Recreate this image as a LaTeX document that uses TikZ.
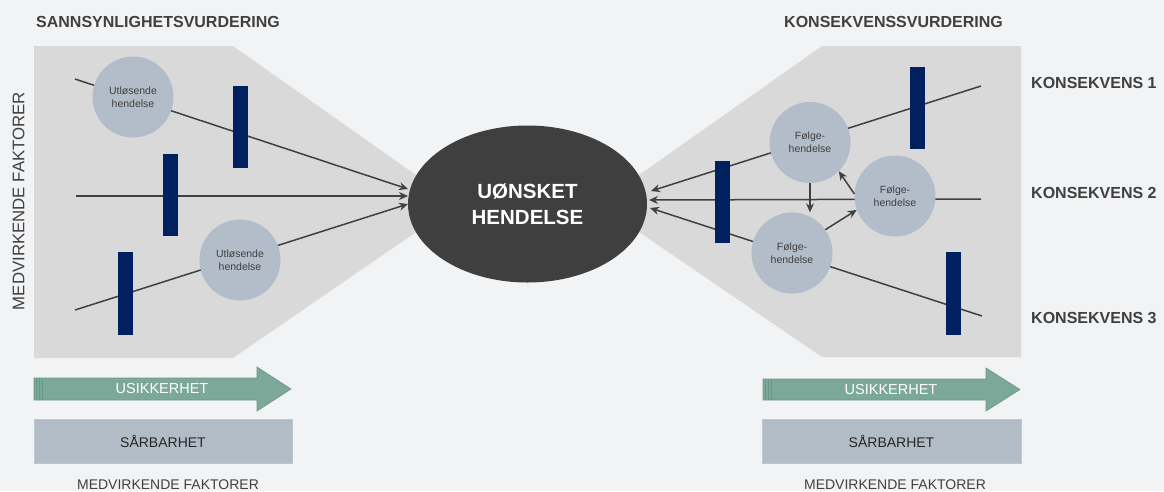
\documentclass[tikz,border=0pt]{standalone}
\usepackage{fontspec}
\setmainfont{Liberation Sans}
\usetikzlibrary{arrows.meta,shapes.geometric}
\definecolor{bgc}{HTML}{F2F3F5}
\definecolor{funnelc}{HTML}{D9D9D9}
\definecolor{circc}{HTML}{B3BDC9}
\definecolor{navy}{HTML}{002060}
\definecolor{dark}{HTML}{3F3F3F}
\definecolor{txt}{HTML}{404040}
\definecolor{grn}{HTML}{7BA898}
\definecolor{grnd}{HTML}{6A9888}
\definecolor{boxc}{HTML}{B2BCC7}
\tikzset{
  conn/.style={draw=txt,line width=1.5pt,-{Stealth[length=9pt,width=8pt]}},
  evcirc/.style={circle,fill=circc,minimum size=81pt,inner sep=0pt,align=center,
    text=txt,font=\fontsize{10.5}{13}\selectfont},
  bar/.style={rectangle,fill=navy,minimum width=15pt,inner sep=0pt},
  title/.style={anchor=west,text=txt,font=\fontsize{16}{19}\selectfont\bfseries,inner sep=0pt},
  conslabel/.style={anchor=west,text=txt,font=\fontsize{16}{19}\selectfont\bfseries,inner sep=0pt},
  factor/.style={text=txt,font=\fontsize{14}{17}\selectfont,inner sep=0pt},
  usik/.style={fill=grn,draw=grnd,line width=0.6pt},
  usiktext/.style={text=white,font=\fontsize{14.5}{17}\selectfont,inner sep=0pt},
  sarbox/.style={rectangle,fill=boxc,draw=boxc!85!white,inner sep=0pt,
    text=black!85,font=\fontsize{14}{17}\selectfont},
}
\begin{document}
\begin{tikzpicture}[x=1pt,y=-1pt]
\useasboundingbox (0,0) rectangle (1164,491);
\fill[bgc] (0,0) rectangle (1164,491);

% grey funnels
\fill[funnelc] (34,46) -- (233,46) -- (457,204) -- (233,358) -- (34,358) -- cycle;
\fill[funnelc] (1021,46) -- (822,46) -- (598,204) -- (822,357) -- (1021,357) -- cycle;

% titles
\node[title] (tl) at (36,22) {SANNSYNLIGHETSVURDERING};
\node[title] (tr) at (784,22) {KONSEKVENSSVURDERING};
\node[text=txt,font=\fontsize{16.8}{19}\selectfont,rotate=90,inner sep=0pt] (mvl) at (18.5,201) {MEDVIRKENDE FAKTORER};

\node[conslabel] (k1) at (1031,83) {KONSEKVENS 1};
\node[conslabel] (k2) at (1031,193) {KONSEKVENS 2};
\node[conslabel] (k3) at (1031,318) {KONSEKVENS 3};

% central event
\node[ellipse,fill=dark,minimum width=239pt,minimum height=157pt,inner sep=0pt,
  text=white,align=center,font=\fontsize{20.5}{26}\selectfont\bfseries] (E) at (527.5,204) {UØNSKET\\HENDELSE};

% line coordinates
\coordinate (sL1) at (75,79);
\coordinate (sL2) at (76,196);
\coordinate (sL3) at (75,310);
\coordinate (eL1) at (408,189);
\coordinate (eL2) at (408,196);
\coordinate (eL3) at (408,204);
\coordinate (sR1) at (981,86);
\coordinate (sR2) at (981,199);
\coordinate (sR3) at (982,316);
\coordinate (eR1) at (651,191);
\coordinate (eR2) at (649,200);
\coordinate (eR3) at (650,208);

\draw[conn] (sL1) -- (eL1);
\draw[conn] (sL2) -- (eL2);
\draw[conn] (sL3) -- (eL3);
\draw[conn] (sR1) -- (eR1);
\draw[conn] (sR2) -- (eR2);
\draw[conn] (sR3) -- (eR3);

% events
\node[evcirc] (U1) at (133,97) {Utløsende\\hendelse};
\node[evcirc] (U2) at (240,260) {Utløsende\\hendelse};
\node[evcirc] (F1) at (810,142.5) {Følge-\\hendelse};
\node[evcirc] (F2) at (895,196) {Følge-\\hendelse};
\node[evcirc] (F3) at (792,253) {Følge-\\hendelse};

\draw[conn] (F2.177) -- (F1.-45);
\draw[conn] (F1.south) -- (F1.south |- F3.north);
\draw[conn] (F3.35) -- (F2.200);

% barriers
\node[bar,minimum height=82pt] (bA) at (240.5,127) {};
\node[bar,minimum height=82pt] (bB) at (170.5,195) {};
\node[bar,minimum height=83pt] (bC) at (125.5,293.5) {};
\node[bar,minimum height=82pt] (bR1) at (917.5,108) {};
\node[bar,minimum height=82pt] (bR2) at (722.5,202) {};
\node[bar,minimum height=83pt] (bR3) at (953.5,293.5) {};

% usikkerhet arrows
\path[usik] (34,378) -- (257,378) -- (257,367) -- (291,389) -- (257,411) -- (257,400) -- (34,400) -- cycle;
\draw[grnd,line width=0.6pt] (36.7,378) -- (36.7,400) (39.3,378) -- (39.3,400) (42.7,378) -- (42.7,400);
\node[usiktext] (uL) at (162,388) {USIKKERHET};
\path[usik] (763,379) -- (986,379) -- (986,368) -- (1020,389.5) -- (986,411) -- (986,400) -- (763,400) -- cycle;
\draw[grnd,line width=0.6pt] (765.5,379) -- (765.5,400) (768.3,379) -- (768.3,400) (771.5,379) -- (771.5,400);
\node[usiktext] (uR) at (891,389) {USIKKERHET};

% sårbarhet boxes
\node[sarbox,minimum width=258pt,minimum height=44pt] (sL) at (163,441) {SÅRBARHET};
\node[sarbox,minimum width=259pt,minimum height=44pt] (sR) at (891.5,441) {SÅRBARHET};

% bottom labels
\node[factor] (mL) at (168,484.5) {MEDVIRKENDE FAKTORER};
\node[factor] (mR) at (895,484.5) {MEDVIRKENDE FAKTORER};
\end{tikzpicture}
\end{document}
